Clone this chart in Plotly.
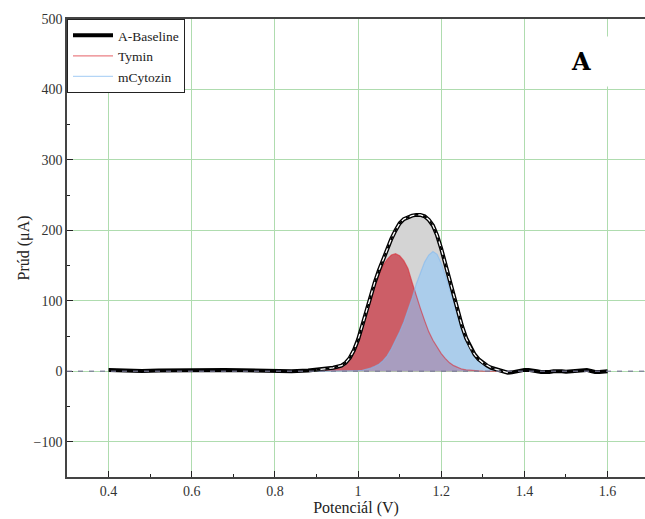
import plotly.graph_objects as go

# ---- data ----
baseline_x = [0.40, 0.44, 0.48, 0.52, 0.56, 0.60, 0.64, 0.68, 0.72, 0.76, 0.80, 0.84, 0.88,
              0.90, 0.91, 0.92, 0.93, 0.94, 0.95, 0.96, 0.97, 0.98, 0.99,
              1.00, 1.01, 1.02, 1.03, 1.04, 1.05, 1.06, 1.07, 1.08, 1.09,
              1.10, 1.11, 1.12, 1.13, 1.14, 1.15, 1.16, 1.17, 1.18, 1.19,
              1.20, 1.21, 1.22, 1.23, 1.24, 1.25, 1.26, 1.27, 1.28, 1.29,
              1.30, 1.31, 1.32, 1.33, 1.34, 1.35, 1.36, 1.37, 1.38, 1.39,
              1.40, 1.41, 1.42, 1.43, 1.44, 1.45, 1.46, 1.47, 1.48, 1.49,
              1.50, 1.51, 1.52, 1.53, 1.54, 1.55, 1.56, 1.57, 1.58, 1.59, 1.60]
baseline_y = [2, 1, 0.5, 1, 1.5, 1, 1.5, 2, 1.5, 1, 0.5, 0, 1,
              2, 2.5, 3, 4, 5, 6.5, 8, 12, 19, 30,
              45, 65, 86, 107, 126, 143, 159, 174, 188, 200,
              210, 216, 219, 221, 222, 222, 220, 215, 207, 193,
              174, 152, 130, 107, 84, 64, 47, 34, 24, 17,
              12, 8, 5, 3, 1, -1, -2, -1.5, 0, 1,
              2, 2, 1.5, 0, -1, -1.5, -1, 0, 0.5, 0,
              -0.5, 0, 1, 2, 2.5, 2, 0.5, -1, -1, 0, 0]

peak_x = [0.90, 0.91, 0.92, 0.93, 0.94, 0.95, 0.96, 0.97, 0.98, 0.99,
          1.00, 1.01, 1.02, 1.03, 1.04, 1.05, 1.06, 1.07, 1.08, 1.09,
          1.10, 1.11, 1.12, 1.13, 1.14, 1.15, 1.16, 1.17, 1.18, 1.19,
          1.20, 1.21, 1.22, 1.23, 1.24, 1.25, 1.26, 1.27, 1.28, 1.29,
          1.30, 1.31, 1.32, 1.33, 1.34, 1.35, 1.36]
tymin_y = [0.5, 1, 1.5, 2.5, 3.5, 5, 7.5, 11, 17, 25,
           40, 62, 86, 107, 124, 138, 150, 159, 165, 167,
           164, 157, 146, 126, 106, 89, 72, 56, 44, 34,
           25, 18, 12, 8, 5, 3, 2, 1.2, 0.8, 0.5,
           0.3, 0.2, 0.1, 0.1, 0, 0, 0]
cytozin_y = [0, 0, 0, 0.1, 0.1, 0.2, 0.3, 0.4, 0.5, 0.7,
             1, 1.5, 2.5, 4.5, 7, 10, 15, 22, 32, 43,
             56, 70, 86, 104, 124, 141, 155, 165, 170, 166,
             153, 136, 117, 97, 78, 61, 45, 33, 23, 16,
             11, 7.5, 5, 3, 2, 1, 0.5]

x_ticks = [0.4, 0.6, 0.8, 1.0, 1.2, 1.4, 1.6]
x_tick_labels = ["0.4", "0.6", "0.8", "1", "1.2", "1.4", "1.6"]
y_ticks = [-100, 0, 100, 200, 300, 400, 500]

SERIF = "Liberation Serif, Times New Roman, serif"

fit_x = [x for x in baseline_x if 0.9 <= x <= 1.36]
fit_y = [y for x, y in zip(baseline_x, baseline_y) if 0.9 <= x <= 1.36]

fig = go.Figure()

# gray envelope fill
fig.add_trace(go.Scatter(x=fit_x, y=fit_y, mode="lines", line=dict(width=0),
                         fill="tozeroy", fillcolor="rgb(212,212,212)",
                         showlegend=False, hoverinfo="skip"))
# component fills
fig.add_trace(go.Scatter(x=peak_x, y=tymin_y, mode="lines", line=dict(width=0),
                         fill="tozeroy", fillcolor="rgba(200,30,45,0.65)",
                         showlegend=False, hoverinfo="skip"))
fig.add_trace(go.Scatter(x=peak_x, y=cytozin_y, mode="lines", line=dict(width=0),
                         fill="tozeroy", fillcolor="rgba(143,200,250,0.6)",
                         showlegend=False, hoverinfo="skip"))
# component lines (legend)
fig.add_trace(go.Scatter(x=peak_x, y=tymin_y, mode="lines", name="Tymin",
                         line=dict(color="rgba(220,40,50,0.6)", width=1.2),
                         legendrank=2))
fig.add_trace(go.Scatter(x=peak_x, y=cytozin_y, mode="lines", name="mCytozin",
                         line=dict(color="rgba(130,185,240,0.6)", width=1.2),
                         legendrank=3))
# baseline data
fig.add_trace(go.Scatter(x=baseline_x, y=baseline_y, mode="lines", name="A-Baseline",
                         line=dict(color="black", width=4), legendrank=1))
fig.add_trace(go.Scatter(x=fit_x, y=fit_y, mode="lines",
                         line=dict(color="white", width=1.3),
                         showlegend=False, hoverinfo="skip"))
fig.add_trace(go.Scatter(x=fit_x, y=fit_y, mode="lines",
                         line=dict(color="black", width=1.8, dash="4px,5px"),
                         showlegend=False, hoverinfo="skip"))

# dashed zero line
fig.add_shape(type="line", xref="paper", x0=0, x1=1, yref="y", y0=0, y1=0,
              line=dict(color="rgba(120,120,150,0.8)", width=1.5, dash="5px,6px"),
              layer="above")

fig.add_annotation(x=1.535, y=440, xref="x", yref="y", text="<b>A</b>",
                   showarrow=False, font=dict(family="DejaVu Serif", size=24, color="black"),
                   bgcolor="white", borderpad=10, width=50)

fig.update_layout(
    width=645, height=519,
    margin=dict(l=67, r=0, t=19, b=42),
    paper_bgcolor="white", plot_bgcolor="white",
    font=dict(family=SERIF, size=14, color="#222"),
    legend=dict(x=0, y=1, xanchor="left", yanchor="top",
                bgcolor="white", bordercolor="#222", borderwidth=1,
                font=dict(family=SERIF, size=13.5, color="#222"),
                tracegroupgap=0, itemwidth=40),
    showlegend=True,
)
fig.update_xaxes(range=[0.3, 1.69], tickvals=x_ticks, ticktext=x_tick_labels,
                 ticks="inside", ticklen=6, tickcolor="#222",
                 tickfont=dict(family=SERIF, size=14, color="#333"),
                 showgrid=True, gridcolor="rgb(175,220,175)", gridwidth=1,
                 showline=True, linecolor="#444", linewidth=1.5, mirror=True,
                 zeroline=False,
                 minor=dict(dtick=0.1, tick0=0.3, ticks="inside", ticklen=3, tickcolor="#222", showgrid=False),
                 title=dict(text="Potenciál (V)", font=dict(family=SERIF, size=16, color="#222"), standoff=4))
fig.update_yaxes(range=[-150, 500], tickvals=y_ticks,
                 ticks="inside", ticklen=6, tickcolor="#222",
                 tickfont=dict(family=SERIF, size=14, color="#333"),
                 showgrid=True, gridcolor="rgb(175,220,175)", gridwidth=1,
                 showline=True, linecolor="#444", linewidth=1.5, mirror=False,
                 zeroline=False,
                 minor=dict(dtick=50, tick0=0, ticks="inside", ticklen=3, tickcolor="#222", showgrid=False),
                 title=dict(text="Prúd (μA)", font=dict(family=SERIF, size=16, color="#222"), standoff=0))

fig.write_html("out.html", config={"displayModeBar": False},
               post_script="document.body.style.margin='0px';document.body.style.overflow='hidden';")
